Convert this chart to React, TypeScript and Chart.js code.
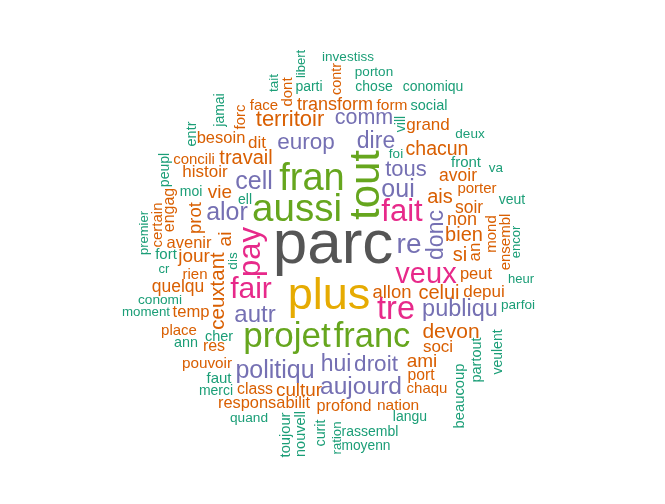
import React, { useEffect, useRef } from "react";
import Chart from "chart.js/auto";

// word stems of the cloud, with their layout position, weight and frequency band
const words = [
  "investiss", "libert", "tait", "parti", "dont", "contr", "porton", "chose", "conomiqu",
  "transform", "form", "social", "face", "jamai", "forc", "territoir", "comm", "vill",
  "grand", "deux", "besoin", "entr", "dit", "europ", "dire", "foi", "chacun", "travail",
  "concili", "peupl", "histoir", "fran", "tout", "tous", "front", "va", "cell", "oui",
  "avoir", "ell", "moi", "vie", "engag", "ais", "porter", "veut", "aussi", "fait", "alor",
  "certain", "premier", "prot", "soir", "non", "donc", "mond", "ensembl", "encor", "bien",
  "avenir", "ai", "pay", "re", "parc", "fort", "jour", "si", "an", "ceuxtant", "dis", "cr",
  "rien", "veux", "peut", "heur", "quelqu", "fair", "plus", "allon", "celui", "depui",
  "conomi", "parfoi", "moment", "temp", "autr", "tre", "publiqu", "place", "cher", "projet",
  "franc", "devon", "ann", "res", "soci", "veulent", "partout", "pouvoir", "politiqu", "hui",
  "droit", "ami", "port", "faut", "merci", "class", "cultur", "aujourd", "chaqu", "beaucoup",
  "responsabilit", "profond", "nation", "langu", "quand", "toujour", "nouvell", "curit",
  "ration", "rassembl", "moyenn",
];

const xPos = [
  348, 301, 274, 309, 288, 337, 374, 374, 433,
  335, 392, 429, 264, 220, 241, 290, 364, 401,
  428, 470, 221, 192, 257, 306, 376, 396, 437, 246,
  194, 165, 205, 312, 367, 406, 466, 496, 254, 398,
  458, 245, 191, 220, 170, 440, 477, 512, 297, 402, 227,
  158, 144, 196, 469, 462, 437, 492, 506, 516, 464,
  189, 226, 251, 409, 333, 166, 194, 460, 475, 218, 233, 164,
  195, 426, 476, 521, 178, 251, 329, 392, 439, 484,
  160, 518, 146, 191, 255, 396, 460, 179, 219, 287,
  372, 451, 186, 214, 438, 498, 477, 207, 275, 336,
  376, 422, 421, 219, 216, 255, 299, 361, 427, 460,
  264, 344, 398, 410, 249, 286, 301, 321,
  337, 370, 366,
];

const yPos = [
  57, 64, 83, 87, 92, 79, 72, 87, 87,
  105, 106, 106, 106, 110, 117, 120, 118, 124,
  125, 134, 138, 134, 143, 143, 142, 154, 150, 158,
  160, 170, 172, 180, 185, 170, 163, 168, 182, 190,
  176, 200, 192, 193, 210, 197, 189, 200, 210, 212, 213,
  225, 233, 218, 208, 220, 235, 234, 242, 242, 235,
  243, 239, 252, 245, 246, 255, 257, 255, 252, 291, 261, 269,
  275, 275, 274, 279, 287, 290, 297, 293, 293, 292,
  300, 305, 312, 312, 315, 310, 310, 331, 337, 337,
  337, 332, 343, 347, 347, 352, 360, 364, 371, 365,
  365, 362, 376, 379, 391, 390, 391, 387, 389, 396,
  403, 407, 406, 417, 418, 435, 434, 433,
  438, 432, 446,
];

// weight = font size in px
const weights = [
  13.5, 13, 13.5, 14, 15, 14.5, 13.5, 14, 14,
  18, 15.5, 14.5, 15, 14, 15, 22, 21.5, 14,
  17, 13.5, 16.5, 14.5, 17, 22.5, 23, 13.5, 19.5, 20,
  15, 14, 17, 38, 42, 22, 15, 13.5, 25, 25,
  17.5, 14, 14, 19, 16, 20, 15, 14, 38.5, 31, 25,
  15, 13, 18.5, 17.5, 18, 23, 15, 15, 13, 20,
  16.5, 19, 31, 28, 62, 15, 19, 20, 17, 20.5, 13.5, 13,
  15, 29, 16.5, 13, 17.5, 30, 45, 18.5, 20, 17,
  13.7, 13.6, 13.3, 16.6, 24, 32.5, 23.5, 15, 14.5, 35,
  34.5, 21, 14.4, 16, 17, 14, 14.5, 15.3, 25, 23,
  22.5, 19, 15.7, 15, 14, 15.8, 18.8, 24.6, 15, 14.8,
  16.4, 16.2, 15.5, 14, 13.7, 14.7, 14.5, 14.3,
  13.2, 14, 13.8,
];

// frequency band: 0 lowest ... 6 highest
const bands = [
  0, 0, 0, 0, 1, 1, 0, 0, 0,
  1, 1, 0, 1, 0, 1, 1, 2, 0,
  1, 0, 1, 0, 1, 2, 2, 0, 1, 1,
  1, 0, 1, 4, 4, 2, 0, 0, 2, 2,
  1, 0, 0, 1, 1, 1, 1, 0, 4, 3, 2,
  1, 0, 1, 1, 1, 2, 1, 1, 0, 1,
  1, 1, 3, 2, 6, 0, 1, 1, 1, 1, 0, 0,
  1, 3, 1, 0, 1, 3, 5, 1, 1, 1,
  0, 0, 0, 1, 2, 3, 2, 1, 0, 4,
  4, 1, 0, 1, 1, 0, 0, 1, 2, 2,
  2, 1, 1, 0, 0, 1, 1, 2, 1, 0,
  1, 1, 1, 0, 0, 0, 0, 0,
  0, 0, 0,
];

// 1 = written vertically
const vertical = [
  0, 1, 1, 0, 1, 1, 0, 0, 0,
  0, 0, 0, 0, 1, 1, 0, 0, 1,
  0, 0, 0, 1, 0, 0, 0, 0, 0, 0,
  0, 1, 0, 0, 1, 0, 0, 0, 0, 0,
  0, 0, 0, 0, 1, 0, 0, 0, 0, 0, 0,
  1, 1, 1, 0, 0, 1, 1, 1, 1, 0,
  0, 1, 1, 0, 0, 0, 0, 0, 1, 1, 1, 0,
  0, 0, 0, 0, 0, 0, 0, 0, 0, 0,
  0, 0, 0, 0, 0, 0, 0, 0, 0, 0,
  0, 0, 0, 0, 0, 1, 1, 0, 0, 0,
  0, 0, 0, 0, 0, 0, 0, 0, 0, 1,
  0, 0, 0, 0, 0, 1, 1, 1,
  1, 0, 0,
];

const palette = ["#1B9E77", "#D95F02", "#7570B3", "#E7298A", "#66A61E", "#E6AB02", "#555555"];

const wordPlugin = {
  id: "wordLabels",
  afterDatasetsDraw(chart: any) {
    const ctx = chart.ctx;
    const meta = chart.getDatasetMeta(0);
    ctx.save();
    ctx.textAlign = "center";
    ctx.textBaseline = "middle";
    meta.data.forEach((pt: any, i: number) => {
      ctx.save();
      ctx.translate(pt.x, pt.y);
      if (vertical[i]) ctx.rotate(-Math.PI / 2);
      ctx.font = `${weights[i]}px "Liberation Sans", Arial, sans-serif`;
      ctx.fillStyle = palette[bands[i]];
      ctx.fillText(words[i], 0, 0);
      ctx.restore();
    });
    ctx.restore();
  },
};

const App: React.FC = () => {
  const chartRef = useRef<HTMLCanvasElement | null>(null);
  const chartInstance = useRef<Chart | null>(null);

  useEffect(() => {
    if (!chartRef.current) return;
    const ctx = chartRef.current.getContext("2d");
    if (!ctx) return;
    if (chartInstance.current) chartInstance.current.destroy();

    chartInstance.current = new Chart(ctx, {
      type: "scatter",
      data: {
        labels: words,
        datasets: [
          {
            data: words.map((_, i) => ({ x: xPos[i], y: yPos[i] })),
            pointRadius: 0,
            pointHoverRadius: 0,
          },
        ],
      },
      options: {
        animation: false,
        responsive: true,
        maintainAspectRatio: false,
        layout: { padding: 0 },
        events: [],
        plugins: {
          legend: { display: false },
          tooltip: { enabled: false },
        },
        scales: {
          x: { type: "linear", display: false, min: 0, max: 665 },
          y: { type: "linear", display: false, min: 0, max: 504, reverse: true },
        },
      },
      plugins: [wordPlugin],
    });

    return () => {
      if (chartInstance.current) {
        chartInstance.current.destroy();
        chartInstance.current = null;
      }
    };
  }, []);

  return (
    <div style={{ position: "fixed", left: 0, top: 0, width: 665, height: 504, background: "#fff" }}>
      <canvas ref={chartRef} />
    </div>
  );
};

export default App;
